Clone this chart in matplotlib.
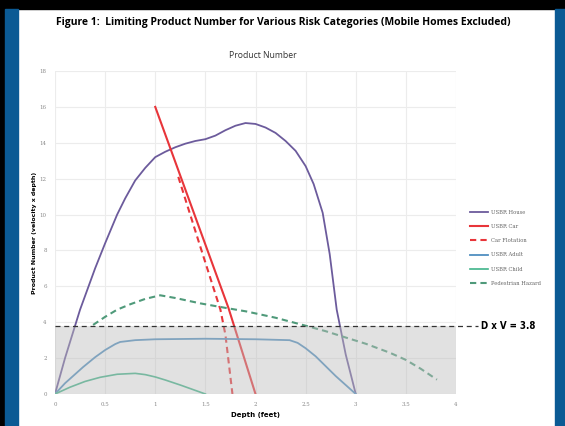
import matplotlib.pyplot as plt
from matplotlib.patches import Rectangle

# data
house_x = [0, 0.1, 0.25, 0.4, 0.5, 0.62, 0.7, 0.8, 0.9, 1.0, 1.1, 1.2, 1.3, 1.4, 1.5, 1.6, 1.7,
           1.8, 1.9, 2.0, 2.1, 2.2, 2.3, 2.4, 2.5, 2.58, 2.67, 2.74, 2.81, 2.9, 3.0]
house_y = [0, 2.0, 4.7, 7.0, 8.4, 10.0, 10.9, 11.9, 12.6, 13.2, 13.5, 13.75, 13.95, 14.1, 14.2, 14.4, 14.7,
           14.95, 15.1, 15.05, 14.85, 14.55, 14.1, 13.55, 12.7, 11.7, 10.1, 7.8, 4.7, 2.2, 0]

car_x = [1.0, 1.73, 2.0]
car_y = [16.0, 4.8, 0]

flot_x = [1.23, 1.45, 1.65, 1.7, 1.77]
flot_y = [12.1, 8.2, 4.7, 3.3, 0]

adult_x = [0, 0.1, 0.2, 0.28, 0.4, 0.5, 0.6, 0.65, 0.8, 1.0, 1.5, 2.0, 2.34, 2.42, 2.5, 2.6,
           2.7, 2.8, 2.9, 3.0]
adult_y = [0, 0.6, 1.1, 1.5, 2.05, 2.45, 2.78, 2.9, 3.0, 3.05, 3.08, 3.05, 3.0, 2.85, 2.55, 2.1,
           1.55, 1.0, 0.5, 0]

child_x = [0, 0.15, 0.3, 0.45, 0.62, 0.8, 0.9, 1.0, 1.1, 1.25, 1.4, 1.5]
child_y = [0, 0.38, 0.7, 0.93, 1.1, 1.15, 1.08, 0.95, 0.78, 0.5, 0.2, 0]

ped_x = [0.38, 0.5, 0.62, 0.75, 0.9, 1.05, 1.2, 1.45, 1.7, 1.91, 2.2, 2.47, 2.7, 2.87, 3.1,
         3.34, 3.5, 3.65, 3.81]
ped_y = [3.85, 4.3, 4.7, 5.0, 5.3, 5.5, 5.35, 5.05, 4.8, 4.6, 4.25, 3.85, 3.5, 3.2, 2.8,
         2.3, 1.9, 1.4, 0.8]

limit = 3.8
x_ticks = [0, 0.5, 1, 1.5, 2, 2.5, 3, 3.5, 4]
x_labels = ['0', '0.5', '1', '1.5', '2', '2.5', '3', '3.5', '4']
y_ticks = [0, 2, 4, 6, 8, 10, 12, 14, 16, 18]

fig = plt.figure(figsize=(5.65, 4.26), dpi=100)

# page frame: black top band, blue side strips
fig.patches.append(Rectangle((0, 1 - 9/426), 1, 9/426, transform=fig.transFigure,
                             color='black', zorder=0))
fig.patches.append(Rectangle((0, 0), 5/565, 1, transform=fig.transFigure,
                             color='black', zorder=0))
fig.patches.append(Rectangle((5/565, 0), 13/565, 1 - 9/426, transform=fig.transFigure,
                             color='#0b5a94', zorder=0))
fig.patches.append(Rectangle((555/565, 0), 10/565, 1 - 9/426, transform=fig.transFigure,
                             color='#0b5a94', zorder=0))

ax = fig.add_axes([55/565, 1 - 394/426, 401/565, 323/426])

ax.plot(house_x, house_y, color='#6c5b9c', lw=1.3, label='USBR House')
ax.plot(car_x, car_y, color='#e8353a', lw=1.5, label='USBR Car')
ax.plot(flot_x, flot_y, color='#e8353a', lw=1.5, ls=(0, (3, 2)), label='Car Flotation')
ax.plot(adult_x, adult_y, color='#4f8fc0', lw=1.3, label='USBR Adult')
ax.plot(child_x, child_y, color='#40b48a', lw=1.2, label='USBR Child')
ax.plot(ped_x, ped_y, color='#4f9a7a', lw=1.5, ls=(0, (3, 2)), label='Pedestrian Hazard')

# shaded zone below the limit
ax.add_patch(Rectangle((0, 0), 4, limit, facecolor='#bdbdbd', alpha=0.45,
                       edgecolor='none', zorder=3))
ax.plot([0, 4.22], [limit, limit], color='#333333', lw=0.9, ls=(0, (4, 3)),
        clip_on=False, zorder=4)
ax.text(4.25, limit, 'D x V = 3.8', fontsize=7, fontweight='bold',
        va='center', ha='left', fontstretch='condensed')

ax.set_xlim(0, 4)
ax.set_ylim(0, 18)
ax.set_xticks(x_ticks)
ax.set_xticklabels(x_labels)
ax.set_yticks(y_ticks)
ax.tick_params(length=0, labelsize=4, labelcolor='#888888', pad=6)
for lab in ax.get_xticklabels() + ax.get_yticklabels():
    lab.set_family('DejaVu Serif')
ax.grid(True, color='#ececec', lw=0.8)
ax.set_axisbelow(True)
for s in ax.spines.values():
    s.set_visible(False)

ax.set_xlabel('Depth (feet)', fontsize=5, fontweight='bold', labelpad=3)
ax.set_ylabel('Product Number (velocity x depth)', fontsize=4.5, fontweight='bold', labelpad=2)

fig.text(263/565, 1 - 55/426, 'Product Number', ha='center', va='center',
         fontsize=6.2, color='#333333', family='Open Sans')
fig.text(283/565, 1 - 22/426, 'Figure 1:  Limiting Product Number for Various Risk Categories (Mobile Homes Excluded)',
         ha='center', va='center', fontsize=7.5, fontweight='bold', family='Open Sans')

ax.legend(loc='upper left', bbox_to_anchor=(465/565, 1 - 205/426), bbox_transform=fig.transFigure,
          frameon=False, prop={'family': 'DejaVu Serif', 'size': 3.8}, handlelength=3.5,
          labelspacing=1.75, handletextpad=0.5, labelcolor='#666666')

fig.savefig('out.png', dpi=100)
